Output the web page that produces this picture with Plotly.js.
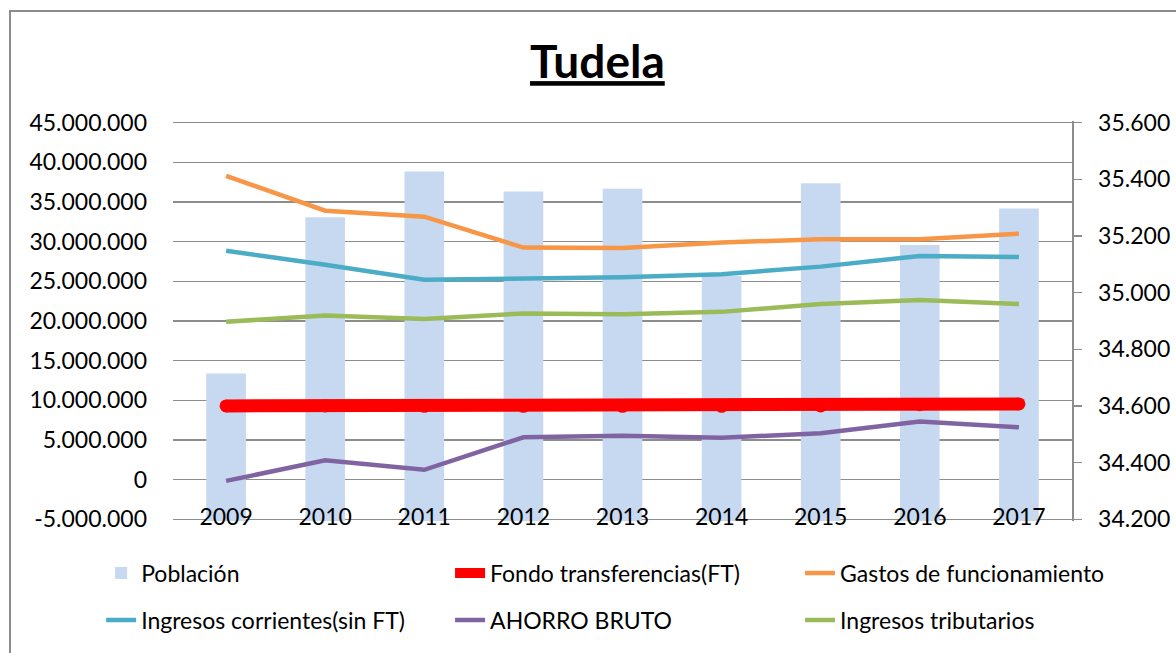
<!DOCTYPE html>
<html>
<head>
<meta charset="utf-8">
<script src="https://cdn.plot.ly/plotly-3.0.1.min.js"></script>
<style>
html,body{margin:0;padding:0;background:#fff;}
#wrap{position:relative;width:1176px;height:653px;overflow:hidden;}
#chart{width:1176px;height:653px;}
#frame{position:absolute;left:9px;top:10px;width:1300px;height:800px;border-left:2px solid #8c8c8c;border-top:2px solid #8c8c8c;pointer-events:none;}
</style>
</head>
<body>
<div id="wrap"><div id="chart"></div><div id="frame"></div></div>
<script>
var years = ['2009','2010','2011','2012','2013','2014','2015','2016','2017'];
var poblacion = [34715, 35266, 35427, 35357, 35367, 35059, 35386, 35168, 35297];
var fondoTransferencias = [9300000, 9300000, 9250000, 9250000, 9250000, 9250000, 9300000, 9450000, 9550000];
var gastosFuncionamiento = [38300000, 33900000, 33150000, 29250000, 29200000, 29900000, 30300000, 30300000, 31000000];
var ingresosCorrientes = [28850000, 27100000, 25200000, 25400000, 25500000, 25900000, 26850000, 28200000, 28050000];
var ahorroBruto = [-150000, 2450000, 1250000, 5350000, 5550000, 5300000, 5850000, 7350000, 6600000];
var ingresosTributarios = [19900000, 20700000, 20250000, 20950000, 20850000, 21150000, 22150000, 22650000, 22150000];

var leftTickVals = [-5000000, 0, 5000000, 10000000, 15000000, 20000000, 25000000, 30000000, 35000000, 40000000, 45000000];
var leftTickText = ['-5.000.000', '0', '5.000.000', '10.000.000', '15.000.000', '20.000.000', '25.000.000', '30.000.000', '35.000.000', '40.000.000', '45.000.000'];
var rightTickVals = [34200, 34400, 34600, 34800, 35000, 35200, 35400, 35600];
var rightTickText = ['34.200', '34.400', '34.600', '34.800', '35.000', '35.200', '35.400', '35.600'];

var FONT = 'Lato, "Open Sans", sans-serif';

function line(name, y, color, width, legend) {
  return {type: 'scatter', mode: 'lines', name: name, x: years, y: y, yaxis: 'y2',
    line: {color: color, width: width}, legend: legend, hoverinfo: 'x+y+name'};
}

var traces = [
  {type: 'bar', name: 'Población', x: years, y: poblacion, yaxis: 'y',
   marker: {color: '#C6D9F1'}, legend: 'legend'},
  line('Fondo transferencias(FT)', fondoTransferencias, '#FF0000', 13, 'legend2'),
  {type: 'scatter', mode: 'markers', name: 'Fondo transferencias(FT)', x: years, y: fondoTransferencias,
   yaxis: 'y2', marker: {color: '#FF0000', size: 13, line: {width: 0}}, showlegend: false, hoverinfo: 'skip'},
  line('Gastos de funcionamiento', gastosFuncionamiento, '#F79646', 4.5, 'legend3'),
  line('Ingresos corrientes(sin FT)', ingresosCorrientes, '#4BACC6', 4.5, 'legend4'),
  line('AHORRO BRUTO', ahorroBruto, '#8064A2', 4.5, 'legend5'),
  line('Ingresos tributarios', ingresosTributarios, '#9BBB59', 4.5, 'legend6')
];

function leg(x, y) {
  return {orientation: 'h', xref: 'container', yref: 'container', xanchor: 'left', yanchor: 'middle',
    x: x, y: y, font: {family: FONT, size: 23, color: '#000'}, bgcolor: 'rgba(0,0,0,0)'};
}

var layout = {
  width: 1176, height: 653,
  paper_bgcolor: '#ffffff', plot_bgcolor: '#ffffff',
  font: {family: FONT, size: 23, color: '#000'},
  margin: {l: 173, r: 104, t: 121, b: 132},
  title: {text: '<b><u>Tudela</u></b>', font: {family: FONT, size: 46, color: '#000'},
    xref: 'container', yref: 'container', x: 0.508, y: 0.905, xanchor: 'center', yanchor: 'middle'},
  bargap: 0.6,
  showlegend: true,
  legend: leg(0.086, 0.1225),
  legend2: leg(0.3827, 0.1225),
  legend3: leg(0.6803, 0.1225),
  legend4: leg(0.086, 0.0505),
  legend5: leg(0.3827, 0.0505),
  legend6: leg(0.6803, 0.0505),
  xaxis: {type: 'category', showgrid: false, showline: false, zeroline: false, ticks: '',
    ticklabelposition: 'outside', ticklabelstandoff: -20,
    tickfont: {family: FONT, size: 23, color: '#000'}},
  yaxis: {side: 'right', range: [34194.4, 35605.6], showgrid: false, zeroline: false,
    showline: true, linecolor: '#8c8c8c', linewidth: 1.5, ticks: 'outside', ticklen: 8,
    tickcolor: '#8c8c8c', tickwidth: 1.5, tickvals: rightTickVals, ticktext: rightTickText,
    ticklabelstandoff: 12, tickfont: {family: FONT, size: 23, color: '#000'}},
  yaxis2: {overlaying: 'y', side: 'left', range: [-5200000, 45200000], showgrid: true,
    gridcolor: '#8c8c8c', gridwidth: 1.5, zeroline: false, showline: false, ticks: '',
    tickvals: leftTickVals, ticktext: leftTickText, ticklabelstandoff: 25,
    tickfont: {family: FONT, size: 23, color: '#000'}}
};

Plotly.newPlot('chart', traces, layout, {displayModeBar: false, staticPlot: true});
</script>
</body>
</html>
